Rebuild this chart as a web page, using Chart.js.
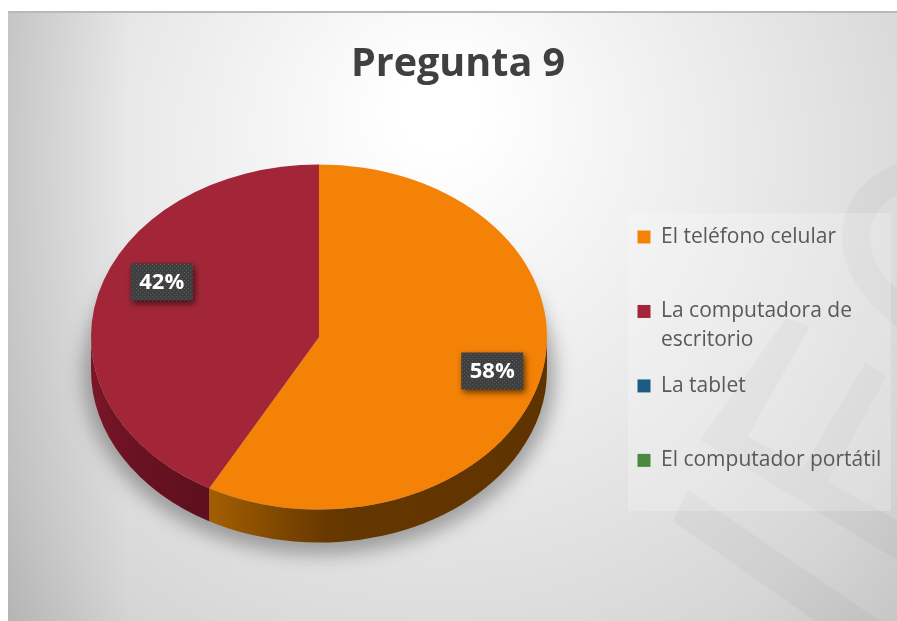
<!DOCTYPE html>
<html>
<head>
<meta charset="utf-8">
<title>Pregunta 9</title>
<script src="https://cdn.jsdelivr.net/npm/chart.js@4"></script>
<style>
  html, body { margin: 0; padding: 0; background: #fff; }
  canvas { display: block; }
</style>
</head>
<body>
<canvas id="chart" width="897" height="621"></canvas>
<script>
const titleText = 'Pregunta 9';
const categories = ['El teléfono celular', ['La computadora de', 'escritorio'], 'La tablet', 'El computador portátil'];
const values = [58, 42, 0, 0];
const colors = ['#f48207', '#a22638', '#1b5c85', '#4a8a3f'];

// aplastado de la torta y alto del borde
const SQUASH = 0.757;
const DEPTH = 33;
const LABEL_RADIUS = 0.78;
const LABEL_SHIFT = [[1, 0], [15, -22]];

function dotPattern(ctx) {
  const c = document.createElement('canvas');
  c.width = c.height = 4;
  const p = c.getContext('2d');
  p.fillStyle = '#3f3f3f';
  p.fillRect(0, 0, 4, 4);
  p.fillStyle = '#555b60';
  p.fillRect(0, 0, 1, 1);
  p.fillRect(2, 2, 1, 1);
  return ctx.createPattern(c, 'repeat');
}

function polygon(ctx, pts) {
  ctx.beginPath();
  pts.forEach(([x, y], i) => (i ? ctx.lineTo(x, y) : ctx.moveTo(x, y)));
  ctx.closePath();
  ctx.fill();
}

const backdrop = {
  id: 'backdrop',
  beforeDraw(chart) {
    const ctx = chart.ctx;
    ctx.save();
    ctx.fillStyle = '#fff';
    ctx.fillRect(0, 0, chart.width, chart.height);
    const g = ctx.createRadialGradient(440, 110, 40, 440, 200, 640);
    g.addColorStop(0, '#ffffff');
    g.addColorStop(0.45, '#e9e9e9');
    g.addColorStop(0.8, '#d6d6d6');
    g.addColorStop(1, '#c4c4c4');
    ctx.fillStyle = g;
    ctx.fillRect(8, 12, chart.width - 8, chart.height - 12);
    const edge = ctx.createLinearGradient(8, 0, 130, 0);
    edge.addColorStop(0, 'rgba(0,0,0,0.1)');
    edge.addColorStop(1, 'rgba(0,0,0,0)');
    ctx.fillStyle = edge;
    ctx.fillRect(8, 12, 122, chart.height - 12);
    ctx.fillStyle = '#b9b9b9';
    ctx.fillRect(8, 11, chart.width - 8, 2);

    // marca de agua
    ctx.strokeStyle = 'rgba(0,0,0,0.03)';
    ctx.lineWidth = 28;
    ctx.beginPath();
    ctx.moveTo(905, 176);
    ctx.bezierCurveTo(865, 190, 845, 225, 862, 265);
    ctx.bezierCurveTo(870, 285, 885, 300, 905, 315);
    ctx.stroke();
    ctx.fillStyle = 'rgba(0,0,0,0.03)';
    polygon(ctx, [[786, 318], [810, 326], [748, 436], [803, 468], [865, 363], [887, 376],
      [828, 482], [897, 520], [897, 560], [700, 440]]);
    polygon(ctx, [[688, 490], [880, 621], [815, 621], [673, 521]]);

    // panel de la leyenda
    ctx.fillStyle = 'rgba(255,255,255,0.22)';
    ctx.fillRect(628, 213, 263, 298);
    ctx.restore();
  }
};

const pie3d = {
  id: 'pie3d',
  beforeDatasetDraw(chart) {
    const ctx = chart.ctx;
    const arcs = chart.getDatasetMeta(0).data;
    const { x, y, outerRadius: r } = arcs[0];
    const ry = r * SQUASH;

    // sombra bajo la torta
    ctx.save();
    ctx.filter = 'blur(9px)';
    ctx.fillStyle = 'rgba(90,90,90,0.5)';
    ctx.beginPath();
    ctx.ellipse(x, y + DEPTH + 4, r + 8, ry + 8, 0, 0, Math.PI * 2);
    ctx.fill();
    ctx.restore();

    // borde inferior
    const rims = [['#a45f02', '#663800', '#5f3300'], ['#7c1629', '#6a1222', '#5e0f1d']];
    arcs.forEach((arc, i) => {
      const a0 = Math.max(arc.startAngle, 0);
      const a1 = Math.min(arc.endAngle, Math.PI);
      if (a1 <= a0 || !rims[i]) return;
      const g = ctx.createLinearGradient(x + r * Math.cos(a1), 0, x + r * Math.cos(a0), 0);
      g.addColorStop(0, rims[i][0]);
      g.addColorStop(0.35, rims[i][1]);
      g.addColorStop(1, rims[i][2]);
      ctx.fillStyle = g;
      ctx.beginPath();
      ctx.ellipse(x, y, r, ry, 0, a0, a1);
      ctx.ellipse(x, y + DEPTH, r, ry, 0, a1, a0, true);
      ctx.closePath();
      ctx.fill();
    });

    ctx.save();
    ctx.translate(x, y);
    ctx.scale(1, SQUASH);
    ctx.translate(-x, -y);
  },
  afterDatasetDraw(chart) {
    const ctx = chart.ctx;
    ctx.restore();
    const arcs = chart.getDatasetMeta(0).data;
    arcs.forEach((arc, i) => {
      if (!values[i]) return;
      const mid = (arc.startAngle + arc.endAngle) / 2;
      const lx = arc.x + Math.cos(mid) * arc.outerRadius * LABEL_RADIUS + LABEL_SHIFT[i][0];
      const ly = arc.y + Math.sin(mid) * arc.outerRadius * LABEL_RADIUS * SQUASH + LABEL_SHIFT[i][1];
      ctx.save();
      ctx.shadowColor = 'rgba(0,0,0,0.6)';
      ctx.shadowBlur = 6;
      ctx.shadowOffsetX = 2;
      ctx.shadowOffsetY = 3;
      ctx.fillStyle = dotPattern(ctx);
      ctx.fillRect(lx - 31, ly - 18, 62, 37);
      ctx.restore();
      ctx.save();
      ctx.fillStyle = '#fff';
      ctx.font = 'bold 22px "Open Sans", sans-serif';
      ctx.textAlign = 'center';
      ctx.textBaseline = 'middle';
      ctx.fillText(values[i] + '%', lx, ly + 1);
      ctx.restore();
    });
  }
};

// la leyenda reserva el ancho del panel y luego se corre a su lugar
const placeBoxes = {
  id: 'placeBoxes',
  beforeLayout(chart) {
    chart.legend.fit = function () {
      Object.getPrototypeOf(this).fit.call(this);
      this.width = 350;
    };
  },
  afterLayout(chart) {
    const legend = chart.legend;
    legend.left = 621;
    legend.right = 897;
    legend.top = 210;
    legend.bottom = 621;
    chart.titleBlock.left = 19;
    chart.titleBlock.right = 897;
  }
};

new Chart(document.getElementById('chart'), {
  type: 'pie',
  data: {
    labels: categories,
    datasets: [{ data: values, backgroundColor: colors, borderWidth: 0 }]
  },
  options: {
    responsive: false,
    animation: false,
    layout: { padding: { left: 91, right: 0, top: 0, bottom: 56 } },
    plugins: {
      tooltip: { enabled: false },
      title: {
        display: true,
        text: titleText,
        color: '#404040',
        font: { family: '"Open Sans", sans-serif', size: 39.5, weight: 'bold', lineHeight: 1.2 },
        padding: { top: 41, bottom: 20.6 }
      },
      legend: {
        position: 'right',
        align: 'start',
        labels: {
          color: '#595959',
          font: { family: '"Open Sans", sans-serif', size: 21, lineHeight: 1.38 },
          boxWidth: 13,
          boxHeight: 13,
          padding: 16.5,
          // todas las filas ocupan dos lineas, como en el original
          generateLabels(chart) {
            const items = Chart.overrides.pie.plugins.legend.labels.generateLabels(chart);
            items.forEach(item => {
              if (!Array.isArray(item.text)) item.text = [item.text, ''];
            });
            return items;
          }
        }
      }
    }
  },
  plugins: [backdrop, pie3d, placeBoxes]
});
</script>
</body>
</html>
